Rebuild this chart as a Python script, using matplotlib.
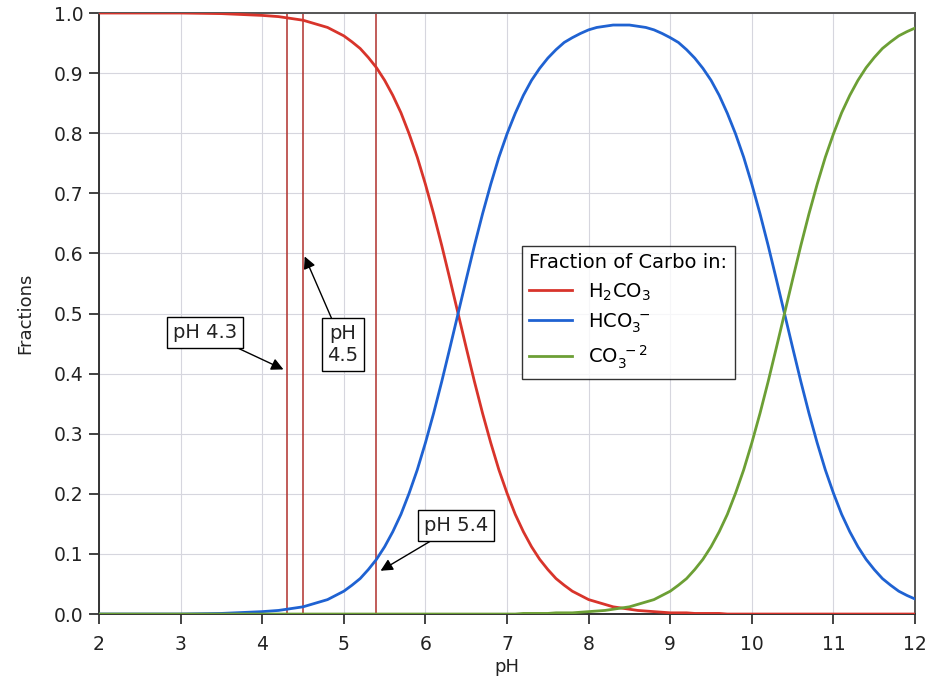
import matplotlib

matplotlib.use("Agg")

import matplotlib.pyplot as plt

# pH sample points (coarse in the flat part, 0.1 steps after)
ph = [2.0, 2.5, 3.0, 3.5,
      4.0, 4.1, 4.2, 4.3, 4.4, 4.5, 4.6, 4.7, 4.8, 4.9,
      5.0, 5.1, 5.2, 5.3, 5.4, 5.5, 5.6, 5.7, 5.8, 5.9,
      6.0, 6.1, 6.2, 6.3, 6.4, 6.5, 6.6, 6.7, 6.8, 6.9,
      7.0, 7.1, 7.2, 7.3, 7.4, 7.5, 7.6, 7.7, 7.8, 7.9,
      8.0, 8.1, 8.2, 8.3, 8.4, 8.5, 8.6, 8.7, 8.8, 8.9,
      9.0, 9.1, 9.2, 9.3, 9.4, 9.5, 9.6, 9.7, 9.8, 9.9,
      10.0, 10.1, 10.2, 10.3, 10.4, 10.5, 10.6, 10.7, 10.8, 10.9,
      11.0, 11.1, 11.2, 11.3, 11.4, 11.5, 11.6, 11.7, 11.8, 11.9,
      12.0]

h2co3 = [1.000, 1.000, 1.000, 0.999,
         0.996, 0.995, 0.994, 0.992, 0.990, 0.988, 0.984, 0.980, 0.976, 0.969,
         0.962, 0.952, 0.941, 0.926, 0.909, 0.888, 0.863, 0.834, 0.799, 0.760,
         0.715, 0.666, 0.613, 0.557, 0.500, 0.443, 0.387, 0.334, 0.285, 0.240,
         0.201, 0.166, 0.137, 0.112, 0.091, 0.074, 0.059, 0.048, 0.038, 0.031,
         0.024, 0.020, 0.016, 0.012, 0.010, 0.008, 0.006, 0.005, 0.004, 0.003,
         0.002, 0.002, 0.002, 0.001, 0.001, 0.001, 0.001, 0.000, 0.000, 0.000,
         0.000, 0.000, 0.000, 0.000, 0.000, 0.000, 0.000, 0.000, 0.000, 0.000,
         0.000, 0.000, 0.000, 0.000, 0.000, 0.000, 0.000, 0.000, 0.000, 0.000,
         0.000]

hco3 = [0.000, 0.000, 0.000, 0.001,
        0.004, 0.005, 0.006, 0.008, 0.010, 0.012, 0.016, 0.020, 0.024, 0.031,
        0.038, 0.048, 0.059, 0.074, 0.091, 0.112, 0.137, 0.166, 0.201, 0.240,
        0.285, 0.334, 0.387, 0.443, 0.500, 0.557, 0.613, 0.666, 0.715, 0.760,
        0.799, 0.833, 0.863, 0.888, 0.908, 0.925, 0.939, 0.951, 0.959, 0.966,
        0.972, 0.976, 0.978, 0.980, 0.980, 0.980, 0.978, 0.976, 0.972, 0.966,
        0.959, 0.951, 0.939, 0.925, 0.908, 0.888, 0.863, 0.833, 0.799, 0.760,
        0.715, 0.666, 0.613, 0.557, 0.500, 0.443, 0.387, 0.334, 0.285, 0.240,
        0.201, 0.166, 0.137, 0.112, 0.091, 0.074, 0.059, 0.048, 0.038, 0.031,
        0.025]

co3 = [0.000, 0.000, 0.000, 0.000,
       0.000, 0.000, 0.000, 0.000, 0.000, 0.000, 0.000, 0.000, 0.000, 0.000,
       0.000, 0.000, 0.000, 0.000, 0.000, 0.000, 0.000, 0.000, 0.000, 0.000,
       0.000, 0.000, 0.000, 0.000, 0.000, 0.000, 0.000, 0.000, 0.000, 0.000,
       0.000, 0.000, 0.001, 0.001, 0.001, 0.001, 0.002, 0.002, 0.002, 0.003,
       0.004, 0.005, 0.006, 0.008, 0.010, 0.012, 0.016, 0.020, 0.024, 0.031,
       0.038, 0.048, 0.059, 0.074, 0.091, 0.112, 0.137, 0.166, 0.201, 0.240,
       0.285, 0.334, 0.387, 0.443, 0.500, 0.557, 0.613, 0.666, 0.715, 0.760,
       0.799, 0.834, 0.863, 0.888, 0.909, 0.926, 0.941, 0.952, 0.962, 0.969,
       0.975]

marker_ph = [4.3, 4.5, 5.4]
x_ticks = [2, 3, 4, 5, 6, 7, 8, 9, 10, 11, 12]
y_ticks = [0.0, 0.1, 0.2, 0.3, 0.4, 0.5, 0.6, 0.7, 0.8, 0.9, 1.0]

color_red = "#d8342b"
color_blue = "#1f62d2"
color_green = "#6c9f35"
color_marker = "#b0302c"
color_text = "#222222"

plt.rcParams["font.family"] = "DejaVu Sans"

fig = plt.figure(figsize=(9.29, 6.85), dpi=100)
ax = fig.add_axes([0.1066, 0.1036, 0.8784, 0.8774])

ax.plot(ph, h2co3, color=color_red, lw=2.0, label=r"H$_2$CO$_3$", zorder=3)
ax.plot(ph, hco3, color=color_blue, lw=2.0, label=r"HCO$_3^{\ -}$", zorder=3)
ax.plot(ph, co3, color=color_green, lw=2.0, label=r"CO$_3^{\ -2}$", zorder=3)

for xv in marker_ph:
    ax.axvline(xv, ymin=0, ymax=1, color=color_marker, lw=1.1, zorder=2)

ax.set_xlim(2, 12)
ax.set_ylim(0, 1.0)
ax.set_xticks(x_ticks)
ax.set_yticks(y_ticks)
ax.set_yticklabels([f"{v:.1f}" for v in y_ticks])
ax.tick_params(axis="both", direction="out", labelsize=13.5, colors=color_text,
               width=1.2, length=7)
ax.tick_params(axis="x", pad=8)
ax.tick_params(axis="y", pad=4)
ax.grid(True, color="#d6d6de", lw=0.8)
ax.set_axisbelow(True)
for side in ("left", "bottom"):
    ax.spines[side].set_color("#333333")
    ax.spines[side].set_linewidth(1.4)
for side in ("top", "right"):
    ax.spines[side].set_color("#555555")
    ax.spines[side].set_linewidth(1.4)

ax.set_xlabel("pH", fontsize=13, color=color_text, labelpad=3)
ax.set_ylabel("Fractions", fontsize=13, color=color_text, labelpad=14)

box = dict(boxstyle="square,pad=0.3", fc="white", ec="black", lw=1.0)
arrow = dict(arrowstyle="-|>", color="black", lw=1.0, mutation_scale=18,
             shrinkA=0, shrinkB=0)
ax.annotate("pH 4.3", xy=(4.26, 0.407), xytext=(3.30, 0.468),
            ha="center", va="center", fontsize=14, color=color_text,
            bbox=box, arrowprops=arrow, zorder=5)
ax.annotate("pH\n4.5", xy=(4.52, 0.595), xytext=(4.99, 0.448),
            ha="center", va="center", fontsize=14, color=color_text,
            bbox=box, arrowprops=arrow, linespacing=1.2, zorder=5)
ax.annotate("pH 5.4", xy=(5.45, 0.072), xytext=(6.38, 0.147),
            ha="center", va="center", fontsize=14, color=color_text,
            bbox=box, arrowprops=arrow, zorder=5)

leg = ax.legend(title="Fraction of Carbo in:", loc="upper left",
                bbox_to_anchor=(0.506, 0.629), fontsize=14, title_fontsize=14,
                frameon=True, fancybox=False, edgecolor="black",
                handlelength=2.2, handletextpad=0.8, borderpad=0.4,
                labelspacing=0.45, alignment="left")
leg.get_frame().set_linewidth(1.0)
leg.set_zorder(6)

fig.savefig("out.png", dpi=100, facecolor="white")
plt.close(fig)
